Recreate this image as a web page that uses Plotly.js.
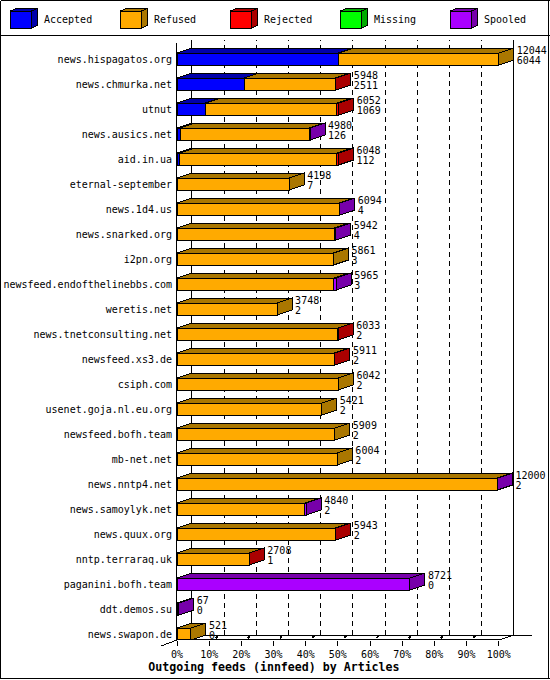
<!DOCTYPE html>
<html><head><meta charset="utf-8">
<script src="https://cdn.plot.ly/plotly-3.0.1.min.js"></script>
<style>
html,body{margin:0;padding:0;background:#fff}
#chart .shapelayer path,#chart .scatterlayer path,#chart .barlayer path{shape-rendering:crispEdges !important}
</style></head><body><div id="chart" style="width:550px;height:680px"></div>
<script>
const servers=["news.hispagatos.org","news.chmurka.net","utnut","news.ausics.net","aid.in.ua","eternal-september","news.1d4.us","news.snarked.org","i2pn.org","newsfeed.endofthelinebbs.com","weretis.net","news.tnetconsulting.net","newsfeed.xs3.de","csiph.com","usenet.goja.nl.eu.org","newsfeed.bofh.team","mb-net.net","news.nntp4.net","news.samoylyk.net","news.quux.org","nntp.terraraq.uk","paganini.bofh.team","ddt.demos.su","news.swapon.de"];
const totals=[12044,5948,6052,4980,6048,4198,6094,5942,5861,5965,3748,6033,5911,6042,5421,5909,6004,12000,4840,5943,2708,8721,67,521];
const accepted=[6044,2511,1069,126,112,7,4,4,3,3,2,2,2,2,2,2,2,2,2,2,1,0,0,0];
const rejected=[0,25,70,0,60,0,0,0,0,0,0,8,25,0,0,0,0,0,0,8,8,0,0,0];
const missing=[0,0,0,0,0,0,0,0,0,0,0,0,0,0,0,0,0,0,0,0,0,0,0,0];
const spooled=[0,0,0,20,0,0,25,60,0,90,0,0,0,0,0,0,0,15,50,0,0,8721,67,0];
const refused=totals.map((t,i)=>t-accepted[i]-rejected[i]-missing[i]-spooled[i]);
const seriesNames=["Accepted","Refused","Rejected","Missing","Spooled"];
const seriesValues=[accepted,refused,rejected,missing,spooled];
const frontColors=["#0000ff","#ffaa00","#ff0000","#00ff00","#aa00ff"];
const darkColors=["#0000aa","#aa7700","#aa0000","#00aa00","#7700aa"];
const pctTicks=[0,10,20,30,40,50,60,70,80,90,100];

const maxV=12044, pxPerFull=321.7, plotL=177, plotT=40, plotB=640, plotW=373;
const depthX=15/pxPerFull*maxV, depthY=0.2, halfH=0.24, rowTop=(plotT-59)/25, rowBot=(plotB-59)/25;
const px=x=>(x-plotL)/plotW, py=y=>(plotB-y)/(plotB-plotT);
const rows=servers.map((s,i)=>i);
const traces=[];
seriesNames.forEach((n,k)=>{
  traces.push({type:'bar',orientation:'h',name:n,y:rows,x:seriesValues[k],width:halfH*2,
    marker:{color:frontColors[k],line:{color:'#000',width:1}},hoverinfo:'name+x'});
});
function poly(xs,ys,arrX,arrY){xs.forEach(v=>arrX.push(v));ys.forEach(v=>arrY.push(v));arrX.push(xs[0],null);arrY.push(ys[0],null);}
seriesNames.forEach((n,k)=>{
  const tx=[],ty=[],sx=[],sy=[];
  rows.forEach(i=>{
    let a=0;for(let j=0;j<k;j++)a+=seriesValues[j][i];
    const v=seriesValues[k][i];if(!v)return;
    const b=a+v,top=i-halfH,bot=i+halfH;
    poly([a,a+depthX,b+depthX,b],[top,top-depthY,top-depthY,top],tx,ty);
    let later=0;for(let j=k+1;j<5;j++)later+=seriesValues[j][i];
    if(!later)poly([b,b+depthX,b+depthX,b],[top,top-depthY,bot-depthY,bot],sx,sy);
  });
  const st={type:'scatter',mode:'lines',fill:'toself',fillcolor:darkColors[k],line:{color:'#000',width:1,simplify:false},hoverinfo:'skip',showlegend:false};
  traces.push(Object.assign({x:tx,y:ty,name:n+' top'},st));
  traces.push(Object.assign({x:sx,y:sy,name:n+' side'},st));
});
const labelFont={family:'"DejaVu Sans Mono",monospace',size:10,color:'#000'};
const gap=3/pxPerFull*maxV;
traces.push({type:'scatter',mode:'text',name:'Total',x:totals.map(t=>t+depthX+gap),y:rows.map(i=>i-0.32),text:totals.map(String),textposition:'middle right',textfont:labelFont,hoverinfo:'skip',cliponaxis:false});
traces.push({type:'scatter',mode:'text',name:'Accepted count',x:totals.map(t=>t+depthX+gap),y:rows.map(i=>i+0.1),text:accepted.map(String),textposition:'middle right',textfont:labelFont,hoverinfo:'skip',cliponaxis:false});

const shapes=[];
const blk={color:'#000',width:1};
function pline(x0,y0,x1,y1,layer,line){shapes.push({type:'line',xref:'paper',yref:'paper',x0:px(x0),y0:py(y0),x1:px(x1),y1:py(y1),layer:layer||'above',line:line||blk});}
// frame and separator
pline(0.5,0.5,549.5,0.5);pline(0.5,678.5,549.5,678.5);pline(0.5,0.5,0.5,678.5);pline(548.5,0.5,548.5,678.5);pline(0.5,35.5,549.5,35.5);
// axes box
const backOff=15,backUp=5;
pline(plotL-0.5+backOff,plotT,plotL-0.5+backOff,plotB-backUp,'below');
pline(513.5,plotT,513.5,plotB-backUp,'below');
pline(plotL-0.5+backOff,plotB-backUp,532,plotB-backUp,'below');
pline(plotL-0.5,plotT+3,plotL-0.5,plotB);
pline(161,646,plotL,plotB);
pline(plotL,plotB-0.5,498.7,plotB-0.5);
pline(498.7,plotB,513.7,plotB-backUp,'below');
pctTicks.slice(1,10).forEach(p=>{
  const v=p/100*maxV;
  shapes.push({type:'line',xref:'x',yref:'paper',x0:v+depthX,x1:v+depthX,y0:py(plotB-backUp),y1:py(plotT),layer:'below',line:{color:'#000',width:1,dash:'5px,4px'}});
  const fx=plotL+p/100*pxPerFull;
  pline(fx+6.5,plotB-2,fx+8.5,plotB-4,'above',{color:'#000',width:2});
});
// legend boxes
const annotations=[];
seriesNames.forEach((n,k)=>{
  const l=10.5+110*k,r=l+21,t=11,b=28,dx=6,dy=2.5;
  const P=(x,y)=>px(x).toFixed(5)+','+py(y).toFixed(5);
  const box=(pts,fill)=>shapes.push({type:'path',xref:'paper',yref:'paper',path:'M'+pts.map(p=>P(p[0],p[1])).join('L')+'Z',fillcolor:fill,line:blk,layer:'above'});
  box([[l,t],[l+dx,t-dy],[r+dx,t-dy],[r,t]],darkColors[k]);
  box([[r,t],[r+dx,t-dy],[r+dx,b-dy],[r,b]],darkColors[k]);
  box([[l,t],[r,t],[r,b],[l,b]],frontColors[k]);
  annotations.push({xref:'paper',yref:'paper',x:px(44.5+110*k),y:py(20),text:n,showarrow:false,xanchor:'left',yanchor:'middle',font:labelFont,xshift:-2.5});
});
const layout={width:550,height:680,autosize:false,showlegend:false,barmode:'stack',bargap:0,
  paper_bgcolor:'#fff',plot_bgcolor:'#fff',margin:{l:plotL,r:0,t:plotT,b:40,pad:0},
  title:{text:'<b>Outgoing feeds (innfeed) by Articles</b>',font:{family:'"DejaVu Sans Mono",monospace',size:11.6,color:'#000'},x:0.498,xref:'container',xanchor:'center',y:1-667/680,yref:'container',yanchor:'middle'},
  xaxis:{range:[0,plotW/pxPerFull*maxV],tickmode:'array',tickvals:pctTicks.map(p=>p/100*maxV),ticktext:pctTicks.map(p=>p+'%'),ticks:'outside',ticklen:5,tickwidth:1,tickcolor:'#000',showgrid:false,zeroline:false,showline:false,tickfont:labelFont,ticklabelshift:-1.5,fixedrange:true},
  yaxis:{range:[rowBot,rowTop],tickmode:'array',tickvals:rows,ticktext:servers,ticks:'',showgrid:false,zeroline:false,showline:false,tickfont:labelFont,ticklabelstandoff:4,fixedrange:true},
  shapes:shapes,annotations:annotations};
Plotly.newPlot('chart',traces,layout,{displayModeBar:false,staticPlot:true});
</script></body></html>
